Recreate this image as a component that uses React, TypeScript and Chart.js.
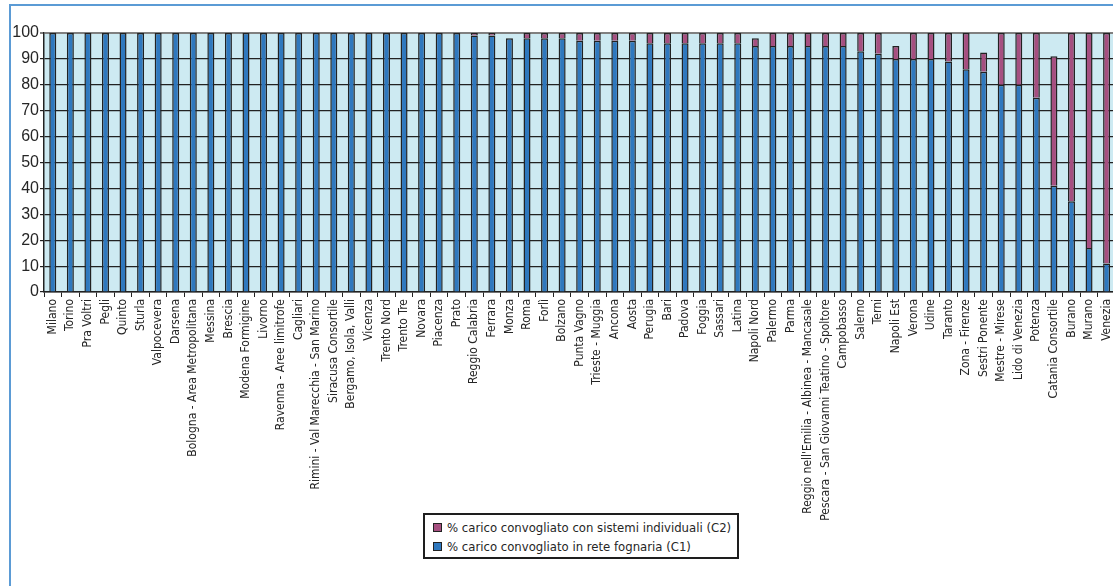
import React, { useEffect, useRef } from "react";
import { Chart, registerables } from "chart.js";

Chart.register(...registerables);

const categories: string[] = [
  "Milano", "Torino", "Pra Voltri", "Pegli", "Quinto", "Sturla", "Valpocevera", "Darsena",
  "Bologna - Area Metropolitana", "Messina", "Brescia", "Modena Formigine", "Livorno",
  "Ravenna - Aree limitrofe", "Cagliari", "Rimini - Val Marecchia - San Marino",
  "Siracusa Consortile", "Bergamo, Isola, Valli", "Vicenza", "Trento Nord", "Trento Tre",
  "Novara", "Piacenza", "Prato", "Reggio Calabria", "Ferrara", "Monza", "Roma", "Forlì",
  "Bolzano", "Punta Vagno", "Trieste - Muggia", "Ancona", "Aosta", "Perugia", "Bari",
  "Padova", "Foggia", "Sassari", "Latina", "Napoli Nord", "Palermo", "Parma",
  "Reggio nell'Emilia - Albinea - Mancasale", "Pescara - San Giovanni Teatino - Spoltore",
  "Campobasso", "Salerno", "Terni", "Napoli Est", "Verona", "Udine", "Taranto",
  "Zona - Firenze", "Sestri Ponente", "Mestre - Mirese", "Lido di Venezia", "Potenza",
  "Catania Consortile", "Burano", "Murano", "Venezia",
];

// % carico convogliato in rete fognaria (C1)
const c1Values: number[] = [
  100, 100, 100, 100, 100, 100, 100, 100, 100, 100, 100, 100, 100, 100, 100, 100, 100, 100,
  100, 100, 100, 100, 100, 100, 99, 99, 98, 98, 98, 98, 97, 97, 97, 97, 96, 96, 96, 96, 96,
  96, 95, 95, 95, 95, 95, 95, 93, 92, 90, 90, 90, 89, 86, 85, 80, 80, 75, 41, 35, 17, 11,
];

// % carico convogliato con sistemi individuali (C2)
const c2Values: number[] = [
  0, 0, 0, 0, 0, 0, 0, 0, 0, 0, 0, 0, 0, 0, 0, 0, 0, 0, 0, 0, 0, 0, 0, 0, 1, 1, 0, 2, 2, 2,
  3, 3, 3, 3, 4, 4, 4, 4, 4, 4, 3, 5, 5, 5, 5, 5, 7, 8, 5, 10, 10, 11, 14, 7.5, 20, 20, 25,
  50, 65, 83, 89,
];

const c1Label = "% carico convogliato in rete fognaria (C1)";
const c2Label = "% carico convogliato con sistemi individuali (C2)";

const BLUE = "#2f78be";
const PURPLE = "#a64f80";
const DARK = "#222222";
const TEXT = "#262626";
const LABEL_FONT = "'Liberation Sans Narrow', 'DejaVu Sans Condensed', sans-serif";

export default function App() {
  const canvasRef = useRef<HTMLCanvasElement | null>(null);

  useEffect(() => {
    const canvas = canvasRef.current;
    if (!canvas) return;
    const bgPlugin = {
      id: "plotBg",
      beforeDraw(chart: any) {
        const { ctx, chartArea } = chart;
        ctx.save();
        ctx.fillStyle = "#cdeaf2";
        ctx.fillRect(chartArea.left, chartArea.top, chartArea.right - chartArea.left, chartArea.bottom - chartArea.top);
        ctx.restore();
      },
    };
    const chart = new Chart(canvas, {
      type: "bar",
      data: {
        labels: categories,
        datasets: [
          {
            label: c1Label,
            data: c1Values,
            backgroundColor: BLUE,
            borderColor: DARK,
            borderWidth: 1.5,
            barPercentage: 0.4,
            categoryPercentage: 1,
          },
          {
            label: c2Label,
            data: c2Values,
            backgroundColor: PURPLE,
            borderColor: DARK,
            borderWidth: 1.5,
            barPercentage: 0.4,
            categoryPercentage: 1,
          },
        ],
      },
      options: {
        responsive: false,
        animation: false,
        devicePixelRatio: 1,
        layout: { padding: { top: 33, left: 0, right: 0, bottom: 0 } },
        plugins: {
          legend: { display: false },
          tooltip: { enabled: false },
        },
        scales: {
          x: {
            stacked: true,
            offset: true,
            grid: {
              drawOnChartArea: false,
              drawTicks: true,
              tickLength: 5,
              color: DARK,
              offset: true,
            },
            border: { color: DARK, width: 1.5 },
            ticks: {
              autoSkip: false,
              minRotation: 90,
              maxRotation: 90,
              padding: 2,
              color: TEXT,
              font: { family: LABEL_FONT, size: 12 },
            },
            afterFit(scale: any) {
              scale.height = 294;
            },
          },
          y: {
            stacked: true,
            min: 0,
            max: 100,
            ticks: {
              stepSize: 10,
              padding: 1,
              color: TEXT,
              font: { family: "'Liberation Sans', Arial, sans-serif", size: 16 },
            },
            grid: {
              color: (ctx: any) => (ctx.tick && ctx.tick.value === 100 ? "#808080" : DARK),
              lineWidth: (ctx: any) => (ctx.tick && ctx.tick.value === 100 ? 2 : 1.2),
              tickLength: 4,
            },
            border: { color: DARK, width: 1.5 },
            afterFit(scale: any) {
              scale.width = 44;
            },
          },
        },
      },
      plugins: [bgPlugin],
    });
    return () => chart.destroy();
  }, []);

  const swatch = (color: string) => (
    <span
      style={{
        display: "inline-block",
        width: 9,
        height: 9,
        background: color,
        border: "1.5px solid #222",
        marginRight: 5,
        verticalAlign: "middle",
        boxSizing: "border-box",
      }}
    />
  );

  return (
    <div
      style={{
        position: "fixed",
        left: 0,
        top: 0,
        width: 1113,
        height: 586,
        overflow: "hidden",
        background: "#ffffff",
      }}
    >
      <div
        style={{
          position: "absolute",
          left: 9,
          top: 4,
          width: 2000,
          height: 2000,
          borderTop: "2px solid #5b9bd5",
          borderLeft: "2px solid #5b9bd5",
        }}
      />
      <canvas
        ref={canvasRef}
        width={1123}
        height={586}
        style={{ position: "absolute", left: 0, top: 0, display: "block" }}
      />
      <div
        style={{
          position: "absolute",
          left: 423,
          top: 513,
          width: 316,
          height: 46,
          boxSizing: "border-box",
          border: "2px solid #1e1e1e",
          background: "#ffffff",
          fontFamily: LABEL_FONT,
          fontSize: 13,
          color: TEXT,
          padding: "3px 0 0 8px",
          lineHeight: "18px",
          whiteSpace: "nowrap",
        }}
      >
        <div>
          {swatch(PURPLE)}
          <span style={{ verticalAlign: "middle" }}>{c2Label}</span>
        </div>
        <div>
          {swatch(BLUE)}
          <span style={{ verticalAlign: "middle" }}>{c1Label}</span>
        </div>
      </div>
    </div>
  );
}
